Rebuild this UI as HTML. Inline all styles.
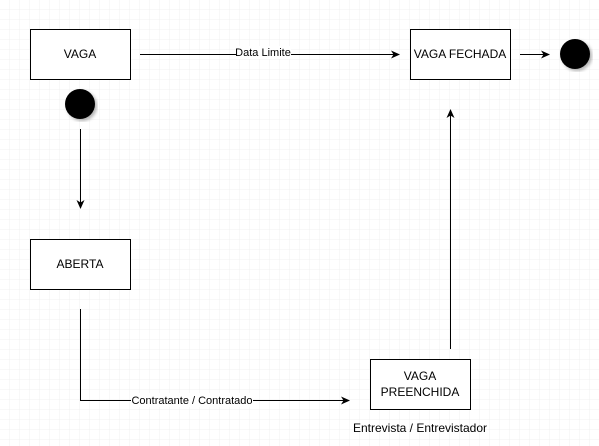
<!DOCTYPE html>
<html><head><style>
body{margin:0;width:599px;height:446px;overflow:hidden;background:#fff;}
svg{display:block}
text{font-family:"Liberation Sans",Arial,sans-serif;font-size:12px;fill:#000}
</style></head><body>
<svg width="599" height="446" xmlns="http://www.w3.org/2000/svg">
<defs>
<pattern id="m" width="10" height="10" patternUnits="userSpaceOnUse"><path d="M10 0V10H0" fill="none" stroke="#f0f0f0" stroke-width="1"/></pattern>
<pattern id="M" width="40" height="40" patternUnits="userSpaceOnUse"><rect width="40" height="40" fill="url(#m)"/><path d="M40.5 0V40M0 40.5H40" fill="none" stroke="#dedede" stroke-width="1"/></pattern>
<marker id="a" markerWidth="10" markerHeight="10" refX="8" refY="5" orient="auto" markerUnits="userSpaceOnUse"><path d="M0 1L9 5L0 9L2.5 5Z" fill="#000"/></marker>
<filter id="s"><feDropShadow dx="2" dy="2" stdDeviation="1.5" flood-opacity="0.3"/></filter>
</defs>
<rect width="599" height="446" fill="url(#M)"/>
<g fill="#fff" stroke="#000" stroke-width="1">
<rect x="30.5" y="29.5" width="100" height="50"/>
<rect x="410.5" y="29.5" width="100" height="50"/>
<rect x="30.5" y="239.5" width="100" height="50"/>
<rect x="370.5" y="359.5" width="100" height="50"/>
</g>
<circle cx="80" cy="104" r="15" fill="#000" filter="url(#s)"/>
<circle cx="575" cy="54" r="15" fill="#000" filter="url(#s)"/>
<g stroke="#000" fill="none" stroke-width="1">
<path d="M140 54.5H399" marker-end="url(#a)"/>
<path d="M80.5 129V208" marker-end="url(#a)"/>
<path d="M80.5 309V400.5H349" marker-end="url(#a)"/>
<path d="M450.5 349V110" marker-end="url(#a)"/>
<path d="M520 54.5H549" marker-end="url(#a)"/>
</g>
<rect x="236" y="46" width="55" height="13" fill="#fff"/>
<text x="263" y="56" text-anchor="middle" style="font-size:11px">Data Limite</text>
<rect x="131" y="393" width="122" height="14" fill="#fff"/>
<text x="192" y="404" text-anchor="middle" style="font-size:11px">Contratante / Contratado</text>
<text x="80" y="58" text-anchor="middle">VAGA</text>
<text x="460" y="58" text-anchor="middle">VAGA FECHADA</text>
<text x="80" y="268" text-anchor="middle">ABERTA</text>
<text x="420" y="380" text-anchor="middle">VAGA</text>
<text x="420" y="396" text-anchor="middle">PREENCHIDA</text>
<text x="420" y="432" text-anchor="middle">Entrevista / Entrevistador</text>
</svg>
</body></html>
